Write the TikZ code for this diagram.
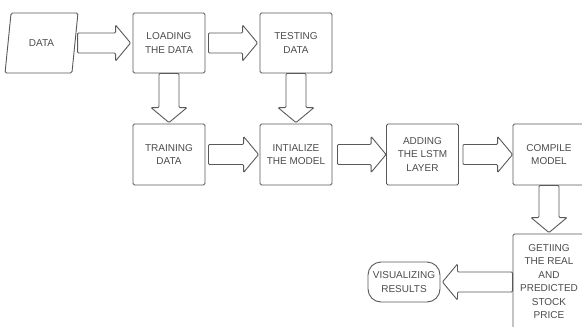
\documentclass[tikz,border=0pt]{standalone}
\usepackage{fontspec}
\setmainfont{Liberation Sans}
\usetikzlibrary{calc,shapes.geometric}
\newcommand\myblockarrow[2]{%
  \coordinate (hb) at ($(#2)!15pt!(#1)$);
  \draw[blockarr] ($(#1)!10pt!90:(#2)$) -- ($(hb)!10pt!90:(#2)$) -- ($(hb)!18pt!90:(#2)$) -- (#2)
    -- ($(hb)!18pt!-90:(#2)$) -- ($(hb)!10pt!-90:(#2)$) -- ($(#1)!10pt!-90:(#2)$) -- cycle;}
\tikzset{
  box/.style={draw=black!65, line width=0.9pt, rounded corners=1.5pt, minimum width=72pt, minimum height=60pt,
    inner sep=0pt, text=black!70, align=center, font=\fontsize{10}{13.5}\selectfont},
  blockarr/.style={draw=black!65, line width=0.9pt, rounded corners=1pt, fill=white},
}
\begin{document}
\begin{tikzpicture}[x=1pt,y=-1pt]
\useasboundingbox (0,0) rectangle (582,327);
\fill[white] (0,0) rectangle (582,327);
\clip (0,0) rectangle (582,327);
\node[box, shape=trapezium, trapezium left angle=70, trapezium right angle=110, trapezium stretches,
  minimum width=73pt, minimum height=60pt, rounded corners=1.5pt] (data) at (41.5,43) {DATA};
\node[box] (load) at (169,43) {LOADING\\THE DATA};
\node[box] (test) at (296,43) {TESTING\\DATA};
\node[box, minimum height=61pt] (train) at (169,154.5) {TRAINING\\DATA};
\node[box, minimum height=61pt] (init) at (296,154.5) {INTIALIZE\\THE MODEL};
\node[box, minimum height=61pt] (lstm) at (422.5,154.5) {ADDING\\THE LSTM\\LAYER};
\node[box, minimum height=61pt] (comp) at (549,154.5) {COMPILE\\MODEL};
\node[box, minimum height=95pt] (get) at (549,281.5) {GETIING\\THE REAL\\AND\\PREDICTED\\STOCK\\PRICE};
\node[box, rounded corners=13pt, minimum height=40pt] (vis) at (404,282) {VISUALIZING\\RESULTS};
% arrow end points
\coordinate (s1) at ($(load.west)+(-55,0)$);
\coordinate (t1) at ($(load.west)+(-2,0)$);
\coordinate (s2) at ($(load.east)+(3,0)$);
\coordinate (t2) at ($(test.west)+(-2,0)$);
\coordinate (s3) at (load.south);
\coordinate (t3) at ($(train.north)+(0,-1)$);
\coordinate (s4) at (test.south);
\coordinate (t4) at ($(init.north)+(0,-1)$);
\coordinate (s5) at ($(train.east)+(3,0)$);
\coordinate (t5) at ($(init.west)+(-1,0)$);
\coordinate (s6) at ($(init.east)+(5,0)$);
\coordinate (t6) at (lstm.west);
\coordinate (s7) at ($(lstm.east)+(4,0)$);
\coordinate (t7) at (comp.west);
\coordinate (s8) at (comp.south);
\coordinate (t8) at ($(get.north)+(0,-1)$);
\coordinate (s9) at (get.west |- vis.east);
\coordinate (t9) at ($(vis.east)+(2,0)$);
\myblockarrow{s1}{t1}
\myblockarrow{s2}{t2}
\myblockarrow{s3}{t3}
\myblockarrow{s4}{t4}
\myblockarrow{s5}{t5}
\myblockarrow{s6}{t6}
\myblockarrow{s7}{t7}
\myblockarrow{s8}{t8}
\myblockarrow{s9}{t9}
\end{tikzpicture}
\end{document}
